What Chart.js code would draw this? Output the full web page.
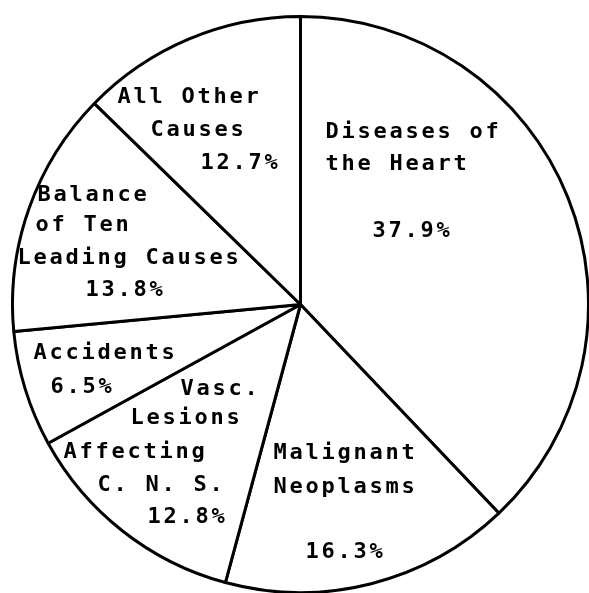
<!DOCTYPE html>
<html>
<head>
<meta charset="utf-8">
<script src="https://cdn.jsdelivr.net/npm/chart.js@4.4.1/dist/chart.umd.min.js"></script>
<style>
  html, body { margin: 0; padding: 0; background: #fff; overflow: hidden; }
  #wrap { position: absolute; left: 11px; top: 15px; width: 579px; height: 579px; }
</style>
</head>
<body>
<div id="wrap"><canvas id="pie"></canvas></div>
<script>
// causes of death, clockwise from 12 o'clock
const causes = [
    'Diseases of the Heart',
    'Malignant Neoplasms',
    'Vasc. Lesions Affecting C. N. S.',
    'Accidents',
    'Balance of Ten Leading Causes',
    'All Other Causes',
];
const percents = [37.9, 16.3, 12.8, 6.5, 13.8, 12.7];

// typed label lines per slice
const labelLines = [
    ['Diseases of', 'the Heart', '37.9%'],
    ['Malignant', 'Neoplasms', '16.3%'],
    ['Vasc.', 'Lesions', 'Affecting', 'C. N. S.', '12.8%'],
    ['Accidents', '6.5%'],
    ['Balance', 'of Ten', 'Leading Causes', '13.8%'],
    ['All Other', 'Causes', '12.7%'],
];

// where each line starts (left edge, baseline) relative to pie centre, px at r=288
const labelPos = [
    [[25, -167], [25, -135], [72, -68]],
    [[-27, 154], [-27, 188], [5, 253]],
    [[-120, 90], [-170, 119], [-237, 153], [-203, 186], [-153, 218]],
    [[-267, 54], [-250, 88]],
    [[-263, -104], [-265, -74], [-283, -41], [-215, -9]],
    [[-183, -202], [-150, -169], [-100, -136]],
];

// typewriter look: fixed advance per character
const typewriter = {
    id: 'typewriter',
    afterDatasetsDraw(chart) {
        const arc = chart.getDatasetMeta(0).data[0];
        if (!arc) return;
        const { x: cx, y: cy, outerRadius } = arc.getProps(['x', 'y', 'outerRadius'], true);
        const k = outerRadius / 288;
        const ctx = chart.ctx;
        ctx.save();
        ctx.fillStyle = '#000';
        ctx.font = `bold ${Math.round(22 * k)}px "DejaVu Sans Mono", monospace`;
        ctx.textBaseline = 'alphabetic';
        ctx.textAlign = 'left';
        const adv = 16 * k;
        labelLines.forEach((lines, i) => {
            lines.forEach((txt, j) => {
                const [dx, dy] = labelPos[i][j];
                const x0 = cx + dx * k;
                const y0 = cy + dy * k;
                [...txt].forEach((ch, n) => ctx.fillText(ch, x0 + n * adv, y0));
            });
        });
        ctx.restore();
    },
};

new Chart(document.getElementById('pie').getContext('2d'), {
    type: 'pie',
    data: {
        labels: causes,
        datasets: [{
            data: percents,
            backgroundColor: '#fff',
            borderColor: '#000',
            borderWidth: 3,
        }],
    },
    options: {
        responsive: true,
        maintainAspectRatio: false,
        animation: false,
        layout: { padding: 0 },
        plugins: {
            legend: { display: false },
            tooltip: { enabled: false },
        },
    },
    plugins: [typewriter],
});
</script>
</body>
</html>
